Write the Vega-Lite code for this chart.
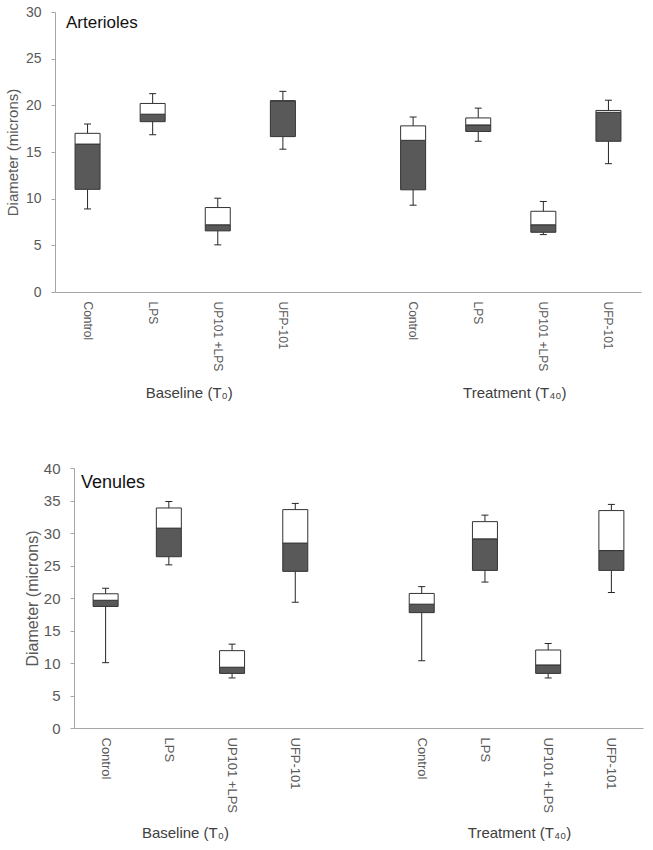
{
  "$schema": "https://vega.github.io/schema/vega-lite/v6.json",
  "padding": 5,
  "spacing": 60,
  "config": {
    "view": {"stroke": null},
    "font": "Liberation Sans",
    "axis": {
      "grid": false,
      "domainColor": "#a6a6a6",
      "tickColor": "#a6a6a6",
      "labelColor": "#595959",
      "titleColor": "#595959",
      "labelFont": "Liberation Sans",
      "titleFont": "Liberation Sans",
      "titleFontWeight": "normal",
      "labelOverlap": false
    }
  },
  "vconcat": [
    {
      "width": 586,
      "height": 280,
      "data": {"values": [
        {"k": "B Control", "min": 8.9, "q1": 11.0, "med": 15.85, "q3": 17.0, "max": 18.0},
        {"k": "B LPS", "min": 16.85, "q1": 18.25, "med": 19.05, "q3": 20.2, "max": 21.25},
        {"k": "B UP101 +LPS", "min": 5.05, "q1": 6.55, "med": 7.2, "q3": 9.05, "max": 10.05},
        {"k": "B UFP-101", "min": 15.3, "q1": 16.65, "med": 20.45, "q3": 20.5, "max": 21.5},
        {"k": "T Control", "min": 9.3, "q1": 10.95, "med": 16.25, "q3": 17.8, "max": 18.75},
        {"k": "T LPS", "min": 16.15, "q1": 17.2, "med": 17.9, "q3": 18.65, "max": 19.7},
        {"k": "T UP101 +LPS", "min": 6.15, "q1": 6.4, "med": 7.2, "q3": 8.65, "max": 9.7},
        {"k": "T UFP-101", "min": 13.75, "q1": 16.15, "med": 19.25, "q3": 19.45, "max": 20.55}
      ]},
      "layer": [
        {
          "mark": {"type": "rule", "color": "#262626", "strokeWidth": 1},
          "encoding": {
            "x": {"field": "k", "type": "nominal",
              "scale": {"domain": ["B Control", "B LPS", "B UP101 +LPS", "B UFP-101", "GAP", "T Control", "T LPS", "T UP101 +LPS", "T UFP-101"], "paddingInner": 0, "paddingOuter": 0},
              "axis": {"title": null, "labelAngle": 90, "ticks": false, "labelPadding": 9, "labelFontSize": 12,
                "labelExpr": "datum.value == 'GAP' ? '' : slice(datum.value, 2)"}},
            "y": {"field": "min", "type": "quantitative",
              "scale": {"domain": [0, 30], "nice": false, "zero": false},
              "axis": {"title": "Diameter (microns)", "values": [0, 5, 10, 15, 20, 25, 30], "labelOverlap": false, "tickSize": 4, "labelPadding": 10, "labelFontSize": 14, "titleFontSize": 15, "titlePadding": 5}},
            "y2": {"field": "q1"}
          }
        },
        {
          "mark": {"type": "rule", "color": "#262626", "strokeWidth": 1},
          "encoding": {
            "x": {"field": "k", "type": "nominal"},
            "y": {"field": "q3", "type": "quantitative"},
            "y2": {"field": "max"}
          }
        },
        {
          "mark": {"type": "tick", "color": "#262626", "size": 7, "thickness": 1, "opacity": 1},
          "encoding": {
            "x": {"field": "k", "type": "nominal"},
            "y": {"field": "min", "type": "quantitative"}
          }
        },
        {
          "mark": {"type": "tick", "color": "#262626", "size": 7, "thickness": 1, "opacity": 1},
          "encoding": {
            "x": {"field": "k", "type": "nominal"},
            "y": {"field": "max", "type": "quantitative"}
          }
        },
        {
          "mark": {"type": "bar", "width": 25, "fill": "#595959", "stroke": "#333333", "strokeWidth": 1},
          "encoding": {
            "x": {"field": "k", "type": "nominal"},
            "y": {"field": "q1", "type": "quantitative"},
            "y2": {"field": "med"}
          }
        },
        {
          "mark": {"type": "bar", "width": 25, "fill": "#ffffff", "stroke": "#333333", "strokeWidth": 1},
          "encoding": {
            "x": {"field": "k", "type": "nominal"},
            "y": {"field": "med", "type": "quantitative"},
            "y2": {"field": "q3"}
          }
        },
        {
          "data": {"values": [{"k": "B Control", "t": "Arterioles"}]},
          "mark": {"type": "text", "align": "left", "baseline": "middle", "dx": 11, "fontSize": 17, "color": "#111111"},
          "encoding": {
            "x": {"field": "k", "type": "nominal", "bandPosition": 0},
            "y": {"datum": 28.8, "type": "quantitative"},
            "text": {"field": "t"}
          }
        },
        {
          "data": {"values": [{"k": "B UP101 +LPS", "t": "Baseline (T₀)"}]},
          "mark": {"type": "text", "align": "center", "baseline": "middle", "dx": 4, "fontSize": 15, "color": "#404040"},
          "encoding": {
            "x": {"field": "k", "type": "nominal", "bandPosition": 0},
            "y": {"datum": -10.8, "type": "quantitative"},
            "text": {"field": "t"}
          }
        },
        {
          "data": {"values": [{"k": "T UP101 +LPS", "t": "Treatment  (T₄₀)"}]},
          "mark": {"type": "text", "align": "center", "baseline": "middle", "dx": 4, "fontSize": 15, "color": "#404040"},
          "encoding": {
            "x": {"field": "k", "type": "nominal", "bandPosition": 0},
            "y": {"datum": -10.8, "type": "quantitative"},
            "text": {"field": "t"}
          }
        }
      ]
    },
    {
      "width": 588,
      "height": 260,
      "data": {"values": [
        {"k": "B Control", "min": 10.05, "q1": 18.7, "med": 19.65, "q3": 20.65, "max": 21.5},
        {"k": "B LPS", "min": 25.1, "q1": 26.35, "med": 30.75, "q3": 33.85, "max": 34.85},
        {"k": "B UP101 +LPS", "min": 7.7, "q1": 8.4, "med": 9.35, "q3": 11.9, "max": 12.9},
        {"k": "B UFP-101", "min": 19.35, "q1": 24.1, "med": 28.45, "q3": 33.6, "max": 34.55},
        {"k": "T Control", "min": 10.35, "q1": 17.75, "med": 19.05, "q3": 20.7, "max": 21.75},
        {"k": "T LPS", "min": 22.45, "q1": 24.25, "med": 29.1, "q3": 31.75, "max": 32.75},
        {"k": "T UP101 +LPS", "min": 7.7, "q1": 8.4, "med": 9.7, "q3": 12.0, "max": 13.0},
        {"k": "T UFP-101", "min": 20.85, "q1": 24.25, "med": 27.3, "q3": 33.45, "max": 34.4}
      ]},
      "layer": [
        {
          "mark": {"type": "rule", "color": "#262626", "strokeWidth": 1},
          "encoding": {
            "x": {"field": "k", "type": "nominal",
              "scale": {"domain": ["B Control", "B LPS", "B UP101 +LPS", "B UFP-101", "GAP", "T Control", "T LPS", "T UP101 +LPS", "T UFP-101"], "paddingInner": 0, "paddingOuter": 0, "range": [19, 588]},
              "axis": {"title": null, "labelAngle": 90, "ticks": false, "labelPadding": 9, "labelFontSize": 13,
                "labelExpr": "datum.value == 'GAP' ? '' : slice(datum.value, 2)"}},
            "y": {"field": "min", "type": "quantitative",
              "scale": {"domain": [0, 40], "nice": false, "zero": false},
              "axis": {"title": "Diameter (microns)", "offset": -19, "values": [0, 5, 10, 15, 20, 25, 30, 35, 40], "labelOverlap": false, "tickCount": 9, "tickSize": 4, "labelPadding": 10, "labelFontSize": 15, "titleFontSize": 16, "titlePadding": 3}},
            "y2": {"field": "q1"}
          }
        },
        {
          "mark": {"type": "rule", "color": "#262626", "strokeWidth": 1},
          "encoding": {
            "x": {"field": "k", "type": "nominal"},
            "y": {"field": "q3", "type": "quantitative"},
            "y2": {"field": "max"}
          }
        },
        {
          "mark": {"type": "tick", "color": "#262626", "size": 7, "thickness": 1, "opacity": 1},
          "encoding": {
            "x": {"field": "k", "type": "nominal"},
            "y": {"field": "min", "type": "quantitative"}
          }
        },
        {
          "mark": {"type": "tick", "color": "#262626", "size": 7, "thickness": 1, "opacity": 1},
          "encoding": {
            "x": {"field": "k", "type": "nominal"},
            "y": {"field": "max", "type": "quantitative"}
          }
        },
        {
          "mark": {"type": "bar", "width": 25, "fill": "#595959", "stroke": "#333333", "strokeWidth": 1},
          "encoding": {
            "x": {"field": "k", "type": "nominal"},
            "y": {"field": "q1", "type": "quantitative"},
            "y2": {"field": "med"}
          }
        },
        {
          "mark": {"type": "bar", "width": 25, "fill": "#ffffff", "stroke": "#333333", "strokeWidth": 1},
          "encoding": {
            "x": {"field": "k", "type": "nominal"},
            "y": {"field": "med", "type": "quantitative"},
            "y2": {"field": "q3"}
          }
        },
        {
          "data": {"values": [{"k": "B Control", "t": "Venules"}]},
          "mark": {"type": "text", "align": "left", "baseline": "middle", "dx": 7, "fontSize": 18, "color": "#111111"},
          "encoding": {
            "x": {"field": "k", "type": "nominal", "bandPosition": 0},
            "y": {"datum": 37.7, "type": "quantitative"},
            "text": {"field": "t"}
          }
        },
        {
          "data": {"values": [{"k": "B UP101 +LPS", "t": "Baseline (T₀)"}]},
          "mark": {"type": "text", "align": "center", "baseline": "middle", "dx": -15, "fontSize": 15, "color": "#404040"},
          "encoding": {
            "x": {"field": "k", "type": "nominal", "bandPosition": 0},
            "y": {"datum": -16.15, "type": "quantitative"},
            "text": {"field": "t"}
          }
        },
        {
          "data": {"values": [{"k": "T UP101 +LPS", "t": "Treatment  (T₄₀)"}]},
          "mark": {"type": "text", "align": "center", "baseline": "middle", "dx": 3, "fontSize": 15, "color": "#404040"},
          "encoding": {
            "x": {"field": "k", "type": "nominal", "bandPosition": 0},
            "y": {"datum": -16.15, "type": "quantitative"},
            "text": {"field": "t"}
          }
        }
      ]
    }
  ]
}
